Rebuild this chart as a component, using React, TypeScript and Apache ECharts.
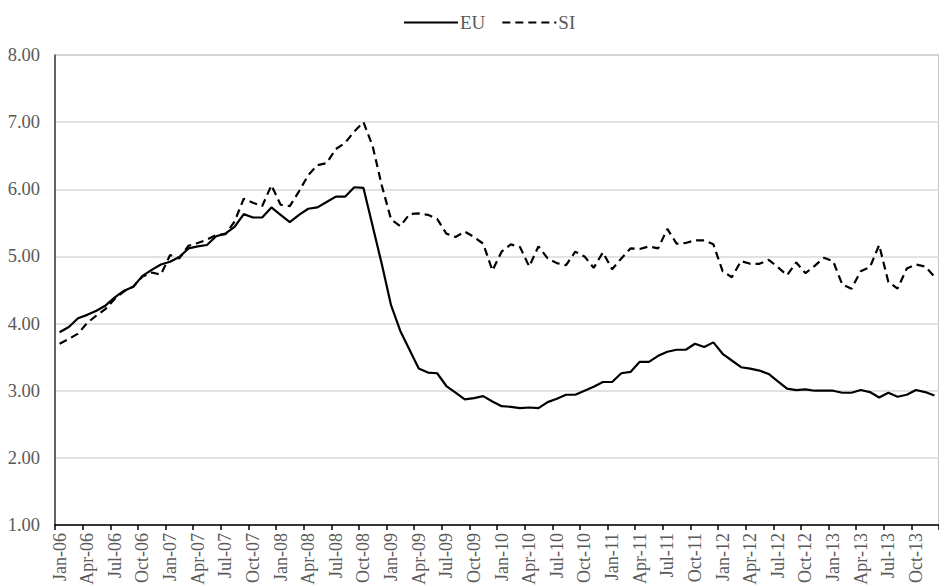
import React, { useEffect, useRef } from "react";
import * as echarts from "echarts";

const monthNames = ["Jan", "Feb", "Mar", "Apr", "May", "Jun", "Jul", "Aug", "Sep", "Oct", "Nov", "Dec"];
const years = ["06", "07", "08", "09", "10", "11", "12", "13"];
const categories: string[] = [];
years.forEach((y) => monthNames.forEach((m) => categories.push(`${m}-${y}`)));

const euValues = [
  3.87, 3.95, 4.08, 4.13, 4.19, 4.27, 4.39, 4.49, 4.55, 4.71,
  4.80, 4.88, 4.92, 4.99, 5.12, 5.15, 5.17, 5.30, 5.34, 5.44,
  5.63, 5.58, 5.58, 5.73, 5.62, 5.51, 5.62, 5.71, 5.73, 5.81,
  5.89, 5.89, 6.03, 6.02, 5.45, 4.88, 4.27, 3.89, 3.61, 3.33,
  3.27, 3.26, 3.07, 2.97, 2.87, 2.89, 2.92, 2.84, 2.77, 2.76,
  2.74, 2.75, 2.74, 2.83, 2.88, 2.94, 2.94, 3.00, 3.06, 3.13,
  3.13, 3.26, 3.28, 3.43, 3.43, 3.52, 3.58, 3.61, 3.61, 3.70,
  3.65, 3.72, 3.55, 3.45, 3.35, 3.33, 3.30, 3.25, 3.14, 3.03,
  3.01, 3.02, 3.00, 3.00, 3.00, 2.97, 2.97, 3.01, 2.98, 2.90,
  2.97, 2.91, 2.94, 3.01, 2.98, 2.93,
];

const siValues = [
  3.70, 3.77, 3.85, 4.01, 4.12, 4.22, 4.37, 4.48, 4.55, 4.70,
  4.76, 4.73, 5.02, 4.97, 5.16, 5.20, 5.25, 5.32, 5.33, 5.52,
  5.86, 5.80, 5.75, 6.06, 5.77, 5.75, 5.97, 6.21, 6.36, 6.39,
  6.60, 6.69, 6.86, 7.00, 6.64, 6.05, 5.55, 5.45, 5.63, 5.64,
  5.62, 5.56, 5.34, 5.29, 5.37, 5.29, 5.19, 4.79, 5.07, 5.18,
  5.14, 4.85, 5.15, 4.97, 4.90, 4.87, 5.07, 5.00, 4.83, 5.06,
  4.81, 4.97, 5.12, 5.11, 5.15, 5.12, 5.41, 5.19, 5.20, 5.24,
  5.24, 5.18, 4.78, 4.69, 4.93, 4.89, 4.89, 4.95, 4.84, 4.72,
  4.91, 4.75, 4.86, 4.98, 4.93, 4.58, 4.52, 4.78, 4.84, 5.17,
  4.62, 4.52, 4.82, 4.88, 4.85, 4.70,
];

const seriesNames = ["EU", "SI"];

const FONT = "'Liberation Serif', 'Times New Roman', serif";
const TEXT_COLOR = "#595959";

export default function App() {
  const ref = useRef<HTMLDivElement>(null);

  useEffect(() => {
    if (!ref.current) return;
    const chart = echarts.init(ref.current, undefined, { renderer: "svg" });
    chart.setOption({
      animation: false,
      backgroundColor: "#ffffff",
      legend: {
        top: 8,
        left: 398,
        itemWidth: 54,
        itemHeight: 14,
        itemGap: 16,
        data: seriesNames,
        itemStyle: { opacity: 0 },
        textStyle: { fontFamily: FONT, fontSize: 19, color: TEXT_COLOR, padding: [0, 0, 0, -3] },
      },
      grid: {
        left: 55,
        top: 55,
        width: 892,
        height: 470,
        show: true,
        borderColor: "#8c8c8c",
        borderWidth: 1,
        containLabel: false,
      },
      xAxis: {
        type: "category",
        data: categories,
        boundaryGap: true,
        axisLine: { show: true, lineStyle: { color: "#000000", width: 1.5 } },
        axisTick: { show: true, interval: 2, alignWithLabel: false, length: 5, lineStyle: { color: "#000000", width: 1.5 } },
        axisLabel: {
          interval: 2,
          rotate: 90,
          margin: 8,
          fontFamily: FONT,
          fontSize: 18,
          color: TEXT_COLOR,
        },
        splitLine: { show: false },
      },
      yAxis: {
        type: "value",
        min: 1,
        max: 8,
        interval: 1,
        axisLine: { show: true, lineStyle: { color: "#404040", width: 1.5 } },
        axisTick: { show: false },
        axisLabel: {
          margin: 15,
          fontFamily: FONT,
          fontSize: 18.5,
          color: TEXT_COLOR,
          formatter: (v: number) => v.toFixed(2),
        },
        splitLine: { show: true, lineStyle: { color: "#d9d9d9", width: 1.5 } },
      },
      series: [
        {
          name: seriesNames[0],
          type: "line",
          data: euValues,
          symbol: "none",
          lineStyle: { color: "#000000", width: 2.2, type: "solid" },
          itemStyle: { color: "#000000" },
        },
        {
          name: seriesNames[1],
          type: "line",
          data: siValues,
          symbol: "none",
          lineStyle: { color: "#000000", width: 2.2, type: [8, 5] },
          itemStyle: { color: "#000000" },
        },
      ],
    });
    return () => chart.dispose();
  }, []);

  return (
    <div
      ref={ref}
      style={{ position: "fixed", left: 0, top: 0, width: 939, height: 588, background: "#fff" }}
    />
  );
}
